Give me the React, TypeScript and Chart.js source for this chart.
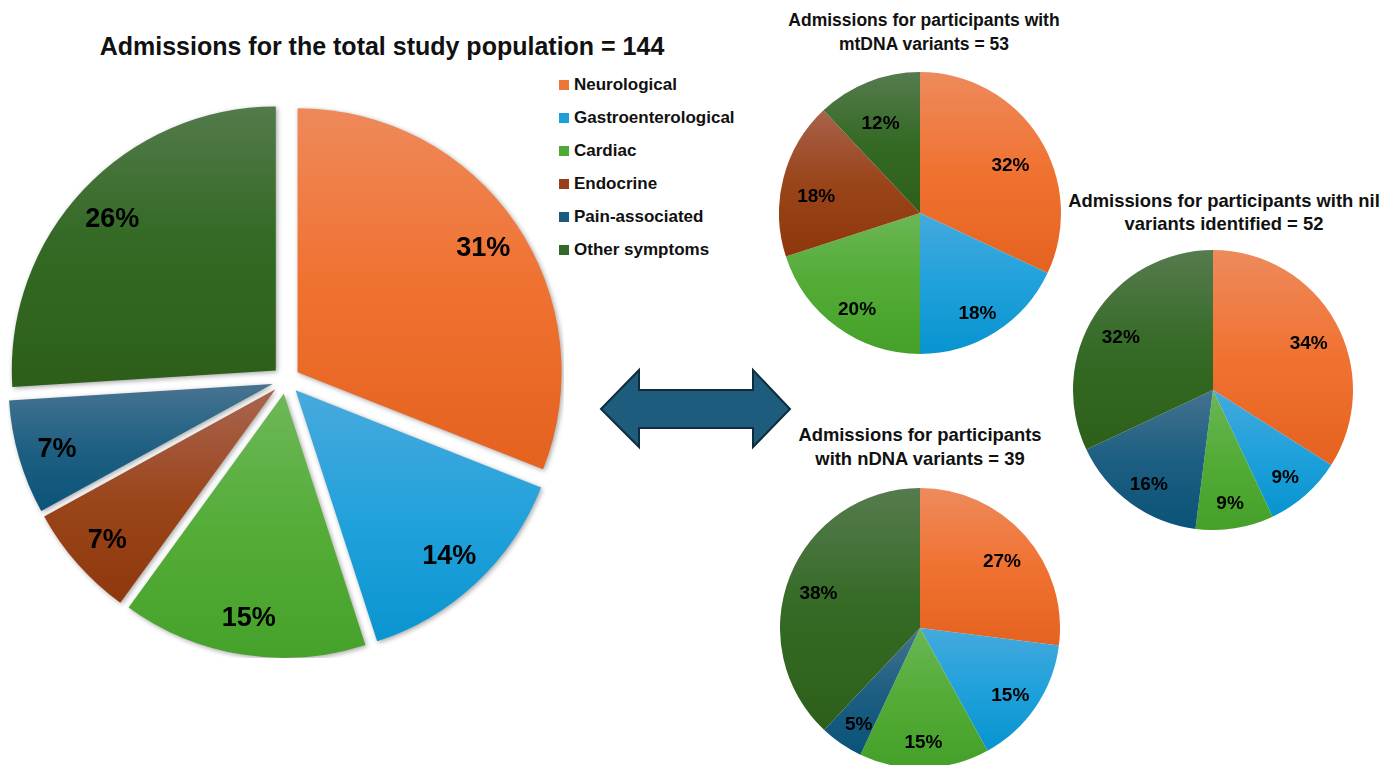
import React, { useEffect, useRef } from "react";
import { Chart, registerables } from "chart.js";

Chart.register(...registerables);

// ---------- data ----------
const categories = [
  "Neurological",
  "Gastroenterological",
  "Cardiac",
  "Endocrine",
  "Pain-associated",
  "Other symptoms",
];
const totalValues = [31, 14, 15, 7, 7, 26];
const mtDnaValues = [32, 18, 20, 18, 0, 12];
const nilValues = [34, 9, 9, 0, 16, 32];
const nDnaValues = [27, 15, 15, 0, 5, 38];

const totalTitle = "Admissions for the total study population = 144";
const mtDnaTitle = ["Admissions for participants with", "mtDNA variants = 53"];
const nilTitle = ["Admissions for participants with nil", "variants identified = 52"];
const nDnaTitle = ["Admissions for participants", "with nDNA variants = 39"];

// gradient stops per category: top, middle, bottom
const gradientStops = [
  ["#EE8A5C", "#F07231", "#E5621F"],
  ["#45A9DD", "#20A1DB", "#0794CF"],
  ["#6BB655", "#52AC36", "#45A02A"],
  ["#A8624B", "#9A4419", "#8E370C"],
  ["#45728F", "#1D5F82", "#0A5378"],
  ["#567B4E", "#346A25", "#2D5F1A"],
];
const legendColors = ["#EE7437", "#1DA0DA", "#4FAA35", "#9A4018", "#1A5C80", "#33692A"];

const FONT = '"Liberation Sans", Arial, Helvetica, sans-serif';

// ---------- helpers ----------
function sliceGradient(c: any, explode: number) {
  const chart = c.chart;
  const area = chart.chartArea;
  const i = c.dataIndex;
  const stops = gradientStops[i];
  if (!area) return stops[1];
  const data = chart.data.datasets[c.datasetIndex].data as number[];
  const total = data.reduce((a: number, b: number) => a + b, 0);
  let start = -Math.PI / 2;
  for (let k = 0; k < i; k++) start += (data[k] / total) * 2 * Math.PI;
  const end = start + (data[i] / total) * 2 * Math.PI;
  const cy = (area.top + area.bottom) / 2;
  const R = Math.min(area.width, area.height) / 2;
  const mid = (start + end) / 2;
  const oy = Math.sin(mid) * explode;
  const ys = [cy, cy + R * Math.sin(start), cy + R * Math.sin(end)];
  for (const a of [-Math.PI / 2, Math.PI / 2, (3 * Math.PI) / 2]) {
    if (a > start && a < end) ys.push(cy + R * Math.sin(a));
  }
  const top = Math.min(...ys) + oy;
  const bottom = Math.max(...ys) + oy;
  const g = chart.ctx.createLinearGradient(0, top, 0, bottom + 0.01);
  g.addColorStop(0, stops[0]);
  g.addColorStop(0.5, stops[1]);
  g.addColorStop(1, stops[2]);
  return g;
}

function explodePlugin(explode: number, shadow: boolean) {
  return {
    id: "explodeDraw",
    beforeDatasetDraw(chart: any, args: any) {
      const ctx = chart.ctx;
      const meta = args.meta;
      meta.data.forEach((el: any) => {
        if (!el.circumference) return;
        const mid = (el.startAngle + el.endAngle) / 2;
        ctx.save();
        ctx.translate(Math.cos(mid) * explode, Math.sin(mid) * explode);
        if (shadow) {
          ctx.shadowColor = "rgba(0,0,0,0.35)";
          ctx.shadowBlur = 5;
          ctx.shadowOffsetX = 1.5;
          ctx.shadowOffsetY = 1.5;
        }
        el.draw(ctx);
        ctx.restore();
      });
      return false;
    },
  };
}

function labelPlugin(explode: number, factor: number, fontSize: number, shiftY: number) {
  return {
    id: "sliceLabels",
    afterDatasetsDraw(chart: any) {
      const ctx = chart.ctx;
      const meta = chart.getDatasetMeta(0);
      const data = chart.data.datasets[0].data as number[];
      ctx.save();
      ctx.font = `bold ${fontSize}px ${FONT}`;
      ctx.fillStyle = "#000";
      ctx.textAlign = "center";
      ctx.textBaseline = "middle";
      meta.data.forEach((el: any, i: number) => {
        if (!data[i]) return;
        const mid = (el.startAngle + el.endAngle) / 2;
        const d = explode + el.outerRadius * factor;
        ctx.fillText(`${data[i]}%`, el.x + Math.cos(mid) * d, el.y + Math.sin(mid) * d + shiftY);
      });
      ctx.restore();
    },
  };
}

type PieProps = {
  values: number[];
  left: number;
  top: number;
  size: number;
  explode: number;
  labelFactor: number;
  labelSize: number;
  labelShiftY: number;
  shadow: boolean;
};

function PieChart({ values, left, top, size, explode, labelFactor, labelSize, labelShiftY, shadow }: PieProps) {
  const ref = useRef<HTMLCanvasElement>(null);
  useEffect(() => {
    const chart = new Chart(ref.current as HTMLCanvasElement, {
      type: "pie",
      data: {
        labels: categories,
        datasets: [
          {
            data: values,
            backgroundColor: (c: any) => sliceGradient(c, explode),
            borderWidth: 0,
          },
        ],
      },
      options: {
        responsive: false,
        animation: false,
        devicePixelRatio: 1,
        events: [],
        layout: { padding: explode },
        plugins: {
          legend: { display: false },
          tooltip: { enabled: false },
          title: { display: false },
        },
      } as any,
      plugins: [
        explodePlugin(explode, shadow),
        labelPlugin(explode, labelFactor, labelSize, labelShiftY),
      ],
    });
    return () => chart.destroy();
  }, []);
  return (
    <canvas
      ref={ref}
      width={size}
      height={size}
      style={{ position: "absolute", left, top, width: size, height: size }}
    />
  );
}

function CenteredText({ lines, cx, cy, size, gap }: { lines: string[]; cx: number; cy: number; size: number; gap: number }) {
  return (
    <>
      {lines.map((t, i) => (
        <div
          key={i}
          style={{
            position: "absolute",
            left: cx - 400,
            width: 800,
            top: cy + i * gap - size * 0.6,
            height: size * 1.2,
            lineHeight: `${size * 1.2}px`,
            fontSize: size,
            fontWeight: "bold",
            textAlign: "center",
            whiteSpace: "nowrap",
            color: "#111",
          }}
        >
          {t}
        </div>
      ))}
    </>
  );
}

export default function App() {
  return (
    <div
      style={{
        position: "absolute",
        left: 0,
        top: 0,
        width: 1399,
        height: 765,
        overflow: "hidden",
        background: "#fff",
        fontFamily: FONT,
      }}
    >
      <CenteredText lines={[totalTitle]} cx={382} cy={46} size={25} gap={0} />
      <CenteredText lines={mtDnaTitle} cx={924} cy={20} size={17.5} gap={24} />
      <CenteredText lines={nilTitle} cx={1224} cy={201} size={18.4} gap={23} />
      <CenteredText lines={nDnaTitle} cx={920} cy={435} size={18.4} gap={24} />

      {categories.map((name, i) => (
        <div key={name} style={{ position: "absolute", left: 559, top: 85 + i * 33 - 10, height: 20 }}>
          <div
            style={{
              position: "absolute",
              left: 0,
              top: 5,
              width: 10,
              height: 10,
              background: legendColors[i],
            }}
          />
          <div
            style={{
              position: "absolute",
              left: 15,
              top: 0,
              lineHeight: "20px",
              fontSize: 17,
              fontWeight: "bold",
              whiteSpace: "nowrap",
              color: "#111",
            }}
          >
            {name}
          </div>
        </div>
      ))}

      <PieChart values={totalValues} left={8} top={102} size={556} explode={14} labelFactor={0.85} labelSize={27} labelShiftY={3} shadow={true} />
      <PieChart values={mtDnaValues} left={779} top={72} size={282} explode={0} labelFactor={0.76} labelSize={19} labelShiftY={10} shadow={false} />
      <PieChart values={nilValues} left={1073} top={250} size={280} explode={0} labelFactor={0.78} labelSize={19} labelShiftY={6} shadow={false} />
      <PieChart values={nDnaValues} left={780} top={488} size={280} explode={0} labelFactor={0.78} labelSize={19} labelShiftY={6} shadow={false} />

      <svg
        width={1399}
        height={765}
        style={{ position: "absolute", left: 0, top: 0, pointerEvents: "none" }}
      >
        <polygon
          points="601,409 639,370 639,390 753,390 753,370 790,409 753,447 753,428 639,428 639,447"
          fill="#1D5C7C"
          stroke="#0E2C3C"
          strokeWidth={2}
          strokeLinejoin="miter"
        />
      </svg>
    </div>
  );
}
